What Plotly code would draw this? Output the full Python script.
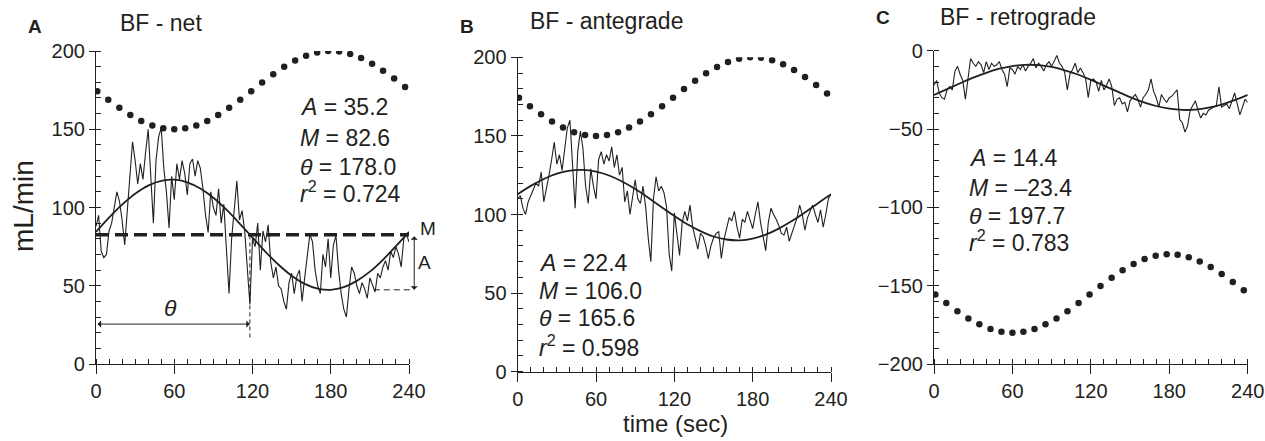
import plotly.graph_objects as go

# sample times (sec)
t_raw = list(range(0, 241, 2))
t_fit = list(range(0, 241, 10))
t_dots = [1, 9.4, 17.9, 26.3, 34.7, 43.2, 51.6, 60.0, 68.4, 76.9, 85.3, 93.7, 102.1, 110.6,
          119.0, 127.4, 135.9, 144.3, 152.7, 161.1, 169.6, 178.0, 186.4, 194.9, 203.3, 211.7,
          220.1, 228.6, 237.0]

# A - net
raw_net = [88, 95, 72, 68, 70, 85, 90, 100, 110, 104,
           92, 76, 98, 120, 142, 130, 115, 128, 118, 135,
           150, 120, 90, 130, 145, 151, 125, 110, 87, 120,
           105, 128, 118, 130, 122, 108, 128, 131, 120, 130,
           125, 112, 95, 84, 110, 100, 95, 112, 90, 102,
           70, 45, 80, 100, 117, 92, 98, 85, 60, 38,
           80, 75, 90, 60, 85, 78, 89, 65, 55, 62,
           50, 48, 40, 35, 52, 58, 45, 56, 60, 40,
           55, 70, 83, 78, 60, 50, 45, 70, 62, 80,
           55, 76, 82, 60, 45, 35, 30, 48, 62, 58,
           50, 45, 52, 48, 42, 55, 50, 46, 58, 55,
           62, 66, 60, 72, 68, 75, 70, 62, 80, 83, 78]
fit_net = [84.4, 93.5, 101.8, 108.8, 114.0, 117.0, 117.8, 116.1, 112.1, 106.2, 98.6, 89.9,
           80.8, 71.7, 63.4, 56.4, 51.2, 48.2, 47.4, 49.1, 53.1, 59.0, 66.6, 75.3, 84.4]
dots_net = [174.3, 168.9, 163.7, 159.1, 155.3, 152.4, 150.6, 150.0, 150.6, 152.4, 155.3, 159.1,
            163.7, 168.9, 174.3, 179.8, 185.1, 189.9, 193.9, 197.0, 199.1, 200.0, 199.7, 198.1,
            195.5, 191.9, 187.4, 182.4, 177.0]

# B - antegrade
raw_ant = [110, 112, 104, 100, 108, 112, 115, 120, 118, 127,
           108, 116, 125, 135, 146, 132, 138, 128, 140, 155,
           160, 130, 104, 140, 153, 142, 118, 107, 129, 118,
           110, 135, 140, 132, 138, 134, 143, 130, 138, 125,
           130, 108, 115, 100, 112, 122, 110, 107, 118, 105,
           85, 70, 110, 124, 115, 118, 114, 105, 75, 64,
           101, 88, 74, 95, 102, 96, 106, 92, 85, 78,
           88, 86, 80, 72, 80, 85, 88, 89, 72, 84,
           91, 98, 96, 102, 92, 85, 97, 95, 102, 96,
           91, 100, 108, 95, 85, 77, 95, 104, 100, 97,
           93, 88, 87, 92, 83, 88, 93, 98, 106, 100,
           90, 98, 102, 106, 100, 95, 103, 92, 100, 110, 113]
fit_ant = [112.9, 118.2, 122.6, 126.0, 127.9, 128.4, 127.3, 124.8, 121.0, 116.2, 110.7, 104.8,
           99.1, 93.8, 89.4, 86.0, 84.1, 83.6, 84.7, 87.2, 91.0, 95.8, 101.3, 107.2, 112.9]
dots_ant = dots_net

# C - retrograde
raw_ret = [-22, -19, -27, -30, -31, -25, -23, -25, -13, -10,
           -15, -19, -31, -19, -5, -8, -10, -7, -9, -14,
           -7, -12, -8, -10, -9, -7, -12, -15, -23, -11,
           -12, -15, -10, -12, -9, -13, -10, -8, -5, -11,
           -8, -10, -13, -9, -7, -10, -6, -3, -8, -10,
           -14, -25, -15, -12, -8, -14, -11, -14, -18, -30,
           -19, -18, -20, -26, -19, -25, -22, -18, -23, -35,
           -31, -30, -34, -33, -39, -32, -30, -28, -31, -36,
           -30, -28, -25, -18, -26, -30, -36, -28, -31, -33,
           -30, -29, -27, -25, -44, -46, -52, -48, -38, -35,
           -32, -38, -43, -40, -41, -38, -37, -36, -35, -23,
           -36, -35, -34, -37, -32, -27, -34, -41, -36, -31, -33]
fit_ret = [-28.2, -24.5, -20.8, -17.2, -14.1, -11.5, -9.8, -9.0, -9.2, -10.4, -12.5, -15.2,
           -18.6, -22.3, -26.0, -29.6, -32.8, -35.3, -37.0, -37.8, -37.6, -36.4, -34.4, -31.6, -28.2]
dots_ret = [-155.7, -161.1, -166.3, -170.9, -174.7, -177.6, -179.4, -180.0, -179.4, -177.6,
            -174.7, -170.9, -166.3, -161.1, -155.7, -150.2, -144.9, -140.1, -136.1, -133.0,
            -130.9, -130.0, -130.3, -131.9, -134.5, -138.1, -142.6, -147.6, -153.0]

stats_net = ['35.2', '82.6', '178.0', '0.724']
stats_ant = ['22.4', '106.0', '165.6', '0.598']
stats_ret = ['14.4', '\u201323.4', '197.7', '0.783']

M_net = 82.6
A_net = 35.2
theta_t = 118

INK = '#231f20'
FONT = 'Liberation Sans'
W, H = 1265, 441

def px(x):
    return x / W

def py(y):
    return 1 - y / H

dom_x = [[96 / W, 409 / W], [517.7 / W, 831 / W], [934 / W, 1247.7 / W]]
dom_y = [[py(364), py(51)], [py(371.7), py(57.3)], [py(364), py(50.7)]]
ranges = [[0, 200], [0, 200], [-200, 0]]

fig = go.Figure()

panels = [(raw_net, fit_net, dots_net), (raw_ant, fit_ant, dots_ant), (raw_ret, fit_ret, dots_ret)]
for i, (raw, fit, dots) in enumerate(panels):
    xa = 'x' if i == 0 else 'x%d' % (i + 1)
    ya = 'y' if i == 0 else 'y%d' % (i + 1)
    fig.add_trace(go.Scatter(x=t_raw, y=raw, mode='lines', xaxis=xa, yaxis=ya,
                             line=dict(color=INK, width=1.1)))
    fig.add_trace(go.Scatter(x=t_fit, y=fit, mode='lines', xaxis=xa, yaxis=ya,
                             line=dict(color=INK, width=1.8, shape='spline')))
    fig.add_trace(go.Scatter(x=t_dots, y=dots, mode='markers', xaxis=xa, yaxis=ya,
                             marker=dict(color=INK, size=6.5)))

# M dashed line and theta marker in panel A
fig.add_trace(go.Scatter(x=[0, 240], y=[M_net, M_net], mode='lines',
                         line=dict(color=INK, width=3.5, dash='13px,6px')))
fig.add_trace(go.Scatter(x=[theta_t, theta_t], y=[17, M_net], mode='lines',
                         line=dict(color=INK, width=1, dash='4px,3px')))

for i in range(3):
    sfx = '' if i == 0 else str(i + 1)
    fig.layout['xaxis' + sfx] = dict(
        domain=dom_x[i], anchor='y' + sfx, range=[0, 240], tickmode='linear', tick0=0, dtick=60,
        ticks='outside', ticklen=9, tickwidth=1.2, tickcolor=INK, automargin=False,
        showline=True, linecolor=INK, linewidth=1.2, showgrid=False, zeroline=False,
        minor=dict(tickmode='linear', tick0=0, dtick=10, ticks='inside', ticklen=5,
                   tickwidth=1, tickcolor=INK, showgrid=False),
        tickfont=dict(family=FONT, size=20, color=INK), fixedrange=True)
    fig.layout['yaxis' + sfx] = dict(
        domain=dom_y[i], anchor='x' + sfx, range=ranges[i], tickmode='linear', tick0=0, dtick=50,
        ticks='outside', ticklen=6, tickwidth=1.2, tickcolor=INK, automargin=False,
        showline=True, linecolor=INK, linewidth=1.2, showgrid=False, zeroline=False,
        minor=dict(tickmode='linear', tick0=0, dtick=10, ticks='inside', ticklen=5,
                   tickwidth=1, tickcolor=INK, showgrid=False),
        tickfont=dict(family=FONT, size=20, color=INK), fixedrange=True)

def ann(text, x, y, size=22, xanchor='left', **kw):
    return dict(text=text, x=px(x), y=py(y), xref='paper', yref='paper', showarrow=False,
                xanchor=xanchor, yanchor='middle', font=dict(family=FONT, size=size, color=INK), **kw)

annotations = [
    ann('<b>A</b>', 35, 26, size=19, xanchor='center'),
    ann('BF - net', 118, 23, size=23),
    ann('<b>B</b>', 467, 26, size=19, xanchor='center'),
    ann('BF - antegrade', 528, 21, size=23),
    ann('<b>C</b>', 883, 17, size=19, xanchor='center'),
    ann('BF - retrograde', 938, 17, size=23),
    ann('mL/min', 24, 206, size=28, xanchor='center', textangle=-90),
    ann('time (sec)', 675, 423, size=24, xanchor='center'),
    ann('M', 428, 228, size=19, xanchor='center'),
    ann('A', 424, 262, size=19, xanchor='center'),
]

labels = ['<i>A</i> = ', '<i>M</i> = ', '<i>\u03b8</i> = ', '<i>r</i><sup>2</sup> = ']
stat_pos = [(298, [107.5, 138, 167, 192]), (537, [262.5, 290.7, 318, 346]), (967, [158, 188, 216, 241])]
for stats, (x0, ys) in zip([stats_net, stats_ant, stats_ret], stat_pos):
    for lab, val, yy in zip(labels, stats, ys):
        annotations.append(ann(lab + val, x0, yy, size=23))

# theta arrow and label (panel A)
annotations.append(dict(x=theta_t, y=25.5, ax=0, ay=25.5, xref='x', yref='y', axref='x', ayref='y',
                        text='', showarrow=True, arrowhead=1, arrowside='end+start', arrowsize=1.2,
                        arrowwidth=1, arrowcolor=INK, standoff=0, startstandoff=0))
annotations.append(dict(x=57, y=36, xref='x', yref='y', text='<i>\u03b8</i>', showarrow=False,
                        font=dict(family=FONT, size=23, color=INK)))
# amplitude arrow (panel A, just right of axis end)
annotations.append(dict(x=244 / 240, y=M_net - A_net, ax=244 / 240, ay=M_net,
                        xref='x domain', yref='y', axref='x domain', ayref='y',
                        text='', showarrow=True, arrowhead=1, arrowside='end+start', arrowsize=1.2,
                        arrowwidth=1, arrowcolor=INK, standoff=0, startstandoff=0))

def xdata_paper(t):
    return dom_x[0][0] + (dom_x[0][1] - dom_x[0][0]) * t / 240

def ydata_paper(v):
    return dom_y[0][0] + (dom_y[0][1] - dom_y[0][0]) * v / 200

shapes = [dict(type='line', xref='paper', yref='paper',
               x0=xdata_paper(213), x1=xdata_paper(244),
               y0=ydata_paper(M_net - A_net), y1=ydata_paper(M_net - A_net),
               line=dict(color=INK, width=1, dash='6px,4px'))]

fig.update_layout(width=W, height=H, margin=dict(l=0, r=0, t=0, b=0, pad=0, autoexpand=False),
                  paper_bgcolor='white', plot_bgcolor='white', showlegend=False,
                  annotations=annotations, shapes=shapes)

# page body margin would push the fixed-size plot off the window
fig.write_html("out.html", config={'displayModeBar': False},
               post_script="document.body.style.margin='0px';")
